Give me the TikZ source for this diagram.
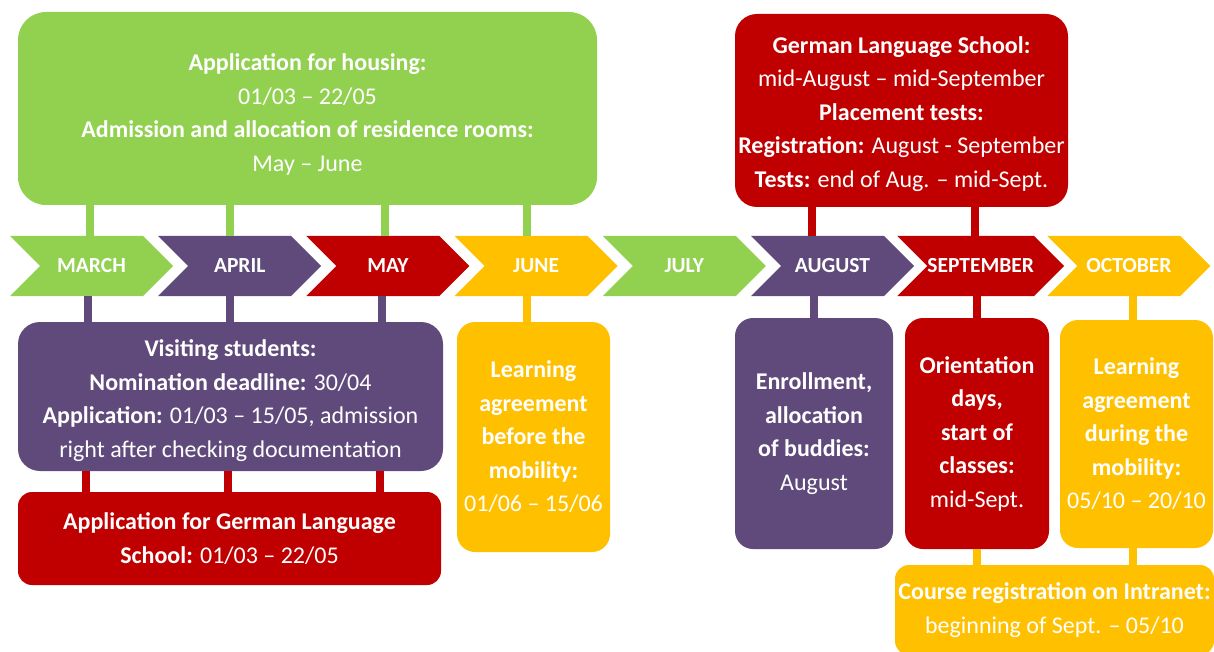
\documentclass[tikz,border=0pt]{standalone}
\usepackage{fontspec}
\setmainfont{Carlito}
\usetikzlibrary{shapes.symbols}
\definecolor{lgreen}{HTML}{92D050}
\definecolor{dpurple}{HTML}{604A7B}
\definecolor{dred}{HTML}{C00000}
\definecolor{amber}{HTML}{FFC000}

\begin{document}
\begin{tikzpicture}[x=1pt,y=-1pt,
    month/.style={signal, signal from=west, signal to=east, signal pointer angle=90,
      minimum width=163pt, minimum height=60pt, inner sep=0pt, fill=#1, text=white,
      font=\fontsize{21.5}{24}\selectfont\bfseries},
    box/.style={fill=#1, rounded corners=22pt, text=white, align=center, inner sep=0pt,
      font=\fontsize{24}{33.5}\selectfont},
    stalk/.style={draw=#1, line width=8pt}]
  \useasboundingbox (0,0) rectangle (1214,652);

  % the months
  \foreach \m/\c [count=\i from 0] in {MARCH/lgreen, APRIL/dpurple, MAY/dred, JUNE/amber,
      JULY/lgreen, AUGUST/dpurple, SEPTEMBER/dred, OCTOBER/amber}
    \node[month=\c] (m\i) at (91.5+148.2*\i,266) {\m};

  % boxes above the timeline
  \node[box=lgreen, minimum width=579pt, minimum height=193pt, rounded corners=28pt] (housing) at (307.5,108.5)
    {\rule{0pt}{29pt}\textbf{Application for housing:}\\ 01/03 -- 22/05\\
     \textbf{Admission and allocation of residence rooms:}\\ May -- June};
  \node[box=dred, minimum width=333pt, minimum height=193pt] (school) at (901.5,110.5)
    {\rule{0pt}{24pt}\textbf{German Language School:}\\ mid-August -- mid-September\\ \textbf{Placement tests:}\\
     \textbf{Registration:} August - September\\ \textbf{Tests:} end of Aug. -- mid-Sept.};

  % boxes below the timeline
  \node[box=dpurple, minimum width=425pt, minimum height=149pt] (visit) at (230.5,396.5)
    {\rule{0pt}{25pt}\textbf{Visiting students:}\\ \textbf{Nomination deadline:} 30/04\\
     \textbf{Application:} 01/03 -- 15/05, admission\\ right after checking documentation};
  \node[box=dred, minimum width=423pt, minimum height=93pt, rounded corners=14pt] (gls) at (229.5,538.5)
    {\textbf{Application for German Language}\\ \textbf{School:} 01/03 -- 22/05};
  \node[box=amber, minimum width=153pt, minimum height=230pt, rounded corners=18pt] (labefore) at (533.5,437)
    {\textbf{Learning}\\ \textbf{agreement}\\ \textbf{before the}\\ \textbf{mobility:}\\ 01/06 -- 15/06};
  \node[box=dpurple, minimum width=158pt, minimum height=231pt, rounded corners=18pt] (enroll) at (814,433.5)
    {\textbf{Enrollment,}\\ \textbf{allocation}\\ \textbf{of buddies:}\\ August};
  \node[box=dred, minimum width=144pt, minimum height=231pt, rounded corners=18pt] (orient) at (977,433.5)
    {\textbf{Orientation}\\ \textbf{days,}\\ \textbf{start of}\\ \textbf{classes:}\\ mid-Sept.};
  \node[box=amber, minimum width=153pt, minimum height=228pt, rounded corners=18pt] (laduring) at (1136.5,434)
    {\textbf{Learning}\\ \textbf{agreement}\\ \textbf{during the}\\ \textbf{mobility:}\\ 05/10 -- 20/10};
  \node[box=amber, minimum width=319pt, minimum height=90pt, rounded corners=14pt] (course) at (1054.5,610)
    {\textbf{Course registration on Intranet:}\\ beginning of Sept. -- 05/10};

  % stalks joining boxes and months
  \foreach \i/\dx in {0/-1.5, 1/-9.5, 2/-3, 3/-9}
    \draw[stalk=lgreen] ([xshift=\dx pt]m\i.north |- housing.south) -- ([xshift=\dx pt]m\i.north);
  \foreach \i/\dx in {5/-20.5, 6/-5.5}
    \draw[stalk=dred] ([xshift=\dx pt]m\i.north |- school.south) -- ([xshift=\dx pt]m\i.north);
  \foreach \i/\dx in {0/-3.5, 1/-9.5, 2/-6} {
    \draw[stalk=dpurple] ([xshift=\dx pt]m\i.south) -- ([xshift=\dx pt]m\i.south |- visit.north);
    \draw[stalk=dred] ([xshift=\dx-2 pt]m\i.south |- visit.south) -- ([xshift=\dx-2 pt]m\i.south |- gls.north);
  }
  \draw[stalk=amber] (labefore.north -| m3.south) ++(-9,0) -- ([xshift=-9pt]m3.south);
  \draw[stalk=dpurple] (m5.south -| enroll.north) -- (enroll.north);
  \draw[stalk=dred] (m6.south -| orient.north) -- (orient.north);
  \draw[stalk=amber] ([xshift=4pt]m7.south) -- ([xshift=4pt]m7.south |- laduring.north);
  \draw[stalk=amber] (orient.south) -- (orient.south |- course.north);
  \draw[stalk=amber] ([xshift=4pt]m7.south |- laduring.south) -- ([xshift=4pt]m7.south |- course.north);
\end{tikzpicture}
\end{document}
